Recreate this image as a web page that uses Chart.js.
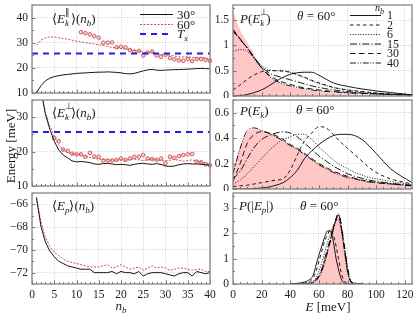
<!DOCTYPE html>
<html><head><meta charset="utf-8">
<script src="https://cdn.jsdelivr.net/npm/chart.js@4.4.1/dist/chart.umd.min.js"></script>
<style>
body{margin:0;width:415px;height:329px;background:#fff;position:relative;overflow:hidden;font-family:"Liberation Serif",serif;}
canvas{position:absolute;}
.t{position:absolute;white-space:nowrap;font-family:"Liberation Serif",serif;font-size:13px;line-height:13px;color:#1a1a1a;}
.stk{display:inline-block;position:relative;width:6px;height:13px;vertical-align:top;}
.stk .up{position:absolute;left:0;top:-4px;font-size:9px;line-height:9px;}
.stk .dn{position:absolute;left:0;top:7px;font-size:9px;line-height:9px;}
.sb{font-size:9px;position:relative;top:3px;}
.c{transform:translate(-50%,-50%);}
svg{position:absolute;left:0;top:0;}
</style></head><body>
<script>
// ---------- data ----------
const nb = [1,2,3,4,5,6,7,8,9,10,11,12,13,14,15,16,17,18,19,20,21,22,23,24,25,26,27,28,29,30,31,32,33,34,35,36,37,38,39,40];
const nbRange = [0,40];
const tsLevel = 25.7;
const ePar30 = [10.0,12.9,14.8,15.9,16.5,16.9,17.2,17.4,17.6,17.8,17.9,18.0,18.1,18.2,18.3,18.3,18.4,18.3,18.2,18.0,17.7,17.6,17.8,18.3,18.8,19.2,19.4,19.1,19.0,19.1,19.2,19.3,19.3,19.4,19.5,19.6,19.7,19.8,19.7,19.6];
const ePar60 = [29.0,31.0,31.9,32.3,32.3,32.0,31.7,31.4,31.0,30.6,30.3,30.0,29.8,29.5,29.2,28.9,28.5,28.1,27.9,27.7,27.5,27.3,27.0,26.7,26.3,26.0,26.3,25.7,25.3,25.5,25.0,24.7,24.4,24.3,24.4,24.1,24.0,24.2,23.9,23.7];
const nbMarksPar = [11,12,13,14,15,16,17,18,19,20,21,22,23,24,25,26,27,28,29,30,31,32,33,34,35,36,37,38,39,40];
const ePar60Marks = [34.2,33.8,33.3,32.6,32.0,30.0,30.0,30.1,28.2,28.4,28.1,27.1,26.5,26.7,24.9,26.1,26.5,24.9,24.4,25.2,23.9,23.4,23.0,22.8,23.5,22.7,23.5,23.5,23.1,22.8];
const ePerp30 = [60,38,31,26.5,23,20.5,19,18.2,17.3,17.0,17.1,17.0,16.8,16.4,16.3,16.5,16.6,16.4,16.2,16.3,16.2,16.0,16.3,16.5,16.6,16.4,16.3,16.5,16.3,15.8,15.7,15.8,16.2,16.4,16.5,16.4,16.4,16.3,16.2,16.0];
const ePerp60 = [60,38,31.5,27.5,24.5,22,20.5,19.8,19.4,19.2,19.0,18.6,18.3,18.0,17.8,17.7,17.6,17.5,17.5,17.6,17.5,17.7,17.8,17.6,17.4,17.6,17.8,17.6,17.4,17.3,17.5,17.7,17.5,17.2,17.4,17.6,17.3,17.0,16.7,16.3];
const nbMarksPerp = [5,6,7,8,9,10,11,12,13,14,15,16,17,18,19,20,21,22,23,24,25,26,27,28,29,30,31,32,33,34,35,36,37,38,39,40];
const ePerp60Marks = [23.9,23.0,20.6,20.2,19.4,19.2,19.2,18.5,19.6,18.6,18.5,17.4,17.4,17.4,17.6,18.0,17.6,18.0,18.5,18.5,19.0,18.0,17.8,17.6,18.0,16.6,18.5,18.2,18.7,19.0,19.2,19.3,17.1,16.9,16.3,16.0];
const eP30 = [-65.4,-67.9,-69.3,-70.1,-70.6,-71.0,-71.2,-71.4,-71.5,-71.6,-71.7,-71.7,-71.7,-72.0,-72.0,-72.0,-72.0,-71.9,-72.1,-71.9,-72.0,-72.0,-72.1,-71.9,-72.3,-72.1,-72.0,-72.0,-72.0,-72.1,-72.2,-72.3,-72.1,-72.0,-72.0,-72.3,-71.9,-72.0,-72.1,-72.0];
const eP60 = [-65.4,-67.5,-68.9,-69.7,-70.2,-70.5,-70.8,-71.0,-71.1,-71.2,-71.3,-71.4,-71.5,-71.5,-71.5,-71.4,-71.3,-71.6,-71.5,-71.3,-71.5,-71.7,-71.6,-71.5,-71.8,-71.6,-71.4,-71.6,-71.5,-71.6,-71.8,-71.7,-71.6,-71.6,-71.7,-71.8,-71.7,-71.7,-71.9,-71.9];

// P(E_perp), theta = 60
const gPerp = [0,5,10,15,20,25,30,35,40,45,50,55,60,70,80,90,100,110,125];
const perpRef = [1.70,1.30,1.06,0.80,0.55,0.40,0.29,0.23,0.19,0.16,0.13,0.11,0.09,0.06,0.04,0.025,0.015,0.008,0.003];
const perpN1  = [0,0.005,0.03,0.07,0.12,0.20,0.29,0.37,0.43,0.46,0.47,0.47,0.41,0.26,0.19,0.14,0.10,0.07,0.02];
const perpN2  = [0.12,0.22,0.33,0.42,0.48,0.50,0.50,0.49,0.47,0.42,0.37,0.31,0.26,0.17,0.12,0.09,0.06,0.04,0.02];
const perpN6  = [0.88,0.92,0.88,0.74,0.60,0.52,0.50,0.50,0.47,0.42,0.36,0.30,0.25,0.17,0.12,0.08,0.06,0.04,0.02];
const perpN15 = [1.30,1.12,0.95,0.76,0.58,0.46,0.40,0.36,0.32,0.28,0.24,0.20,0.17,0.12,0.09,0.06,0.045,0.03,0.02];
const perpN30 = [1.32,1.13,0.95,0.75,0.56,0.42,0.33,0.27,0.23,0.19,0.16,0.14,0.12,0.09,0.07,0.05,0.04,0.03,0.02];
const perpN40 = [1.28,1.12,0.94,0.74,0.55,0.40,0.30,0.24,0.20,0.17,0.14,0.12,0.10,0.08,0.06,0.05,0.04,0.03,0.02];

// P(E_k)
const gKin = [0,5,10,15,20,25,30,35,40,45,50,55,60,65,70,75,80,85,90,95,100,110,125];
const kinRef = [0.16,0.33,0.45,0.47,0.46,0.44,0.42,0.38,0.35,0.32,0.28,0.24,0.20,0.17,0.14,0.12,0.10,0.085,0.07,0.06,0.05,0.04,0.025];
const kinN1  = [0,0,0,0.003,0.008,0.015,0.03,0.05,0.09,0.15,0.24,0.30,0.35,0.39,0.42,0.43,0.43,0.42,0.39,0.34,0.28,0.16,0.05];
const kinN2  = [0.02,0.025,0.03,0.04,0.05,0.06,0.07,0.08,0.15,0.27,0.38,0.44,0.49,0.48,0.43,0.37,0.32,0.27,0.22,0.17,0.13,0.08,0.04];
const kinN6  = [0.04,0.07,0.12,0.18,0.24,0.30,0.35,0.39,0.41,0.43,0.43,0.39,0.33,0.28,0.23,0.19,0.16,0.13,0.11,0.09,0.08,0.06,0.035];
const kinN15 = [0.08,0.14,0.24,0.33,0.39,0.42,0.44,0.45,0.44,0.41,0.36,0.31,0.26,0.22,0.18,0.15,0.12,0.10,0.085,0.07,0.06,0.045,0.03];
const kinN30 = [0.06,0.20,0.36,0.43,0.45,0.44,0.42,0.39,0.35,0.32,0.28,0.24,0.20,0.17,0.14,0.12,0.10,0.085,0.07,0.06,0.05,0.04,0.025];
const kinN40 = [0.12,0.32,0.46,0.48,0.46,0.44,0.41,0.38,0.34,0.31,0.27,0.23,0.19,0.16,0.13,0.11,0.09,0.08,0.065,0.055,0.05,0.04,0.025];

// P(|E_p|)
const gPot = [40,45,50,52,54,56,58,60,62,64,66,68,70,72,73,74,75,76,78,80,82,84,86,90];
const potRef = [0,0,0,0.01,0.02,0.06,0.15,0.30,0.50,0.80,1.20,1.70,2.20,2.60,2.75,2.70,2.45,2.10,1.30,0.50,0.10,0,0,0];
const potN1  = [0,0.02,0.08,0.12,0.20,0.35,0.75,1.15,1.50,1.85,2.10,2.10,1.70,1.00,0.75,0.50,0.30,0.15,0.03,0,0,0,0,0];
const potN2  = [0,0,0.03,0.06,0.12,0.25,0.50,0.90,1.30,1.70,1.95,2.15,1.95,1.50,1.20,0.90,0.60,0.35,0.10,0.02,0,0,0,0];
const potN6  = [0,0,0.01,0.03,0.06,0.12,0.25,0.50,0.85,1.25,1.65,2.00,2.30,2.50,2.55,2.50,2.30,2.00,1.20,0.45,0.10,0.01,0,0];
const potN15 = [0,0,0,0.02,0.04,0.08,0.18,0.35,0.60,1.00,1.40,1.80,2.20,2.55,2.70,2.72,2.50,2.10,1.30,0.50,0.12,0.02,0,0];
const potN30 = [0,0,0,0.01,0.03,0.07,0.15,0.30,0.55,0.90,1.30,1.75,2.20,2.60,2.75,2.70,2.45,2.10,1.35,0.60,0.15,0.03,0,0];
const potN40 = [0,0,0,0.01,0.03,0.06,0.14,0.28,0.50,0.85,1.25,1.70,2.15,2.55,2.72,2.78,2.55,2.20,1.45,0.65,0.18,0.04,0,0];

// tick labels
const xTicksLeft = [0,5,10,15,20,25,30,35,40];
const xTicksRight = [0,20,40,60,80,100,120];
const yTicksPar = [10,20,30,40];
const yTicksPerp = [10,20,30];
const yTicksPot = [-72,-70,-68,-66];
const yTicksPPerp = [0,0.5,1,1.5];
const yTicksPKin = [0,0.2,0.4,0.6];
const yTicksPPot = [0,1,2,3];

// ---------- helpers ----------
const pts = (xs, ys) => xs.map((x, i) => ({x: x, y: ys[i]}));
const RED = '#d24a4a', BLUE = '#2323e8', BLK = '#151515', FILL = '#ffc6c6';
const nStyles = [[], [3.5,3], [1,1.6], [7,2,1.3,2], [5.5,3.5], [6,1.6,1,1.6,1,1.6]];

const axisDeco = {
  id: 'axisDeco',
  afterDatasetsDraw(chart, args, o) {
    const {ctx, chartArea: a} = chart; const xs = chart.scales.x, ys = chart.scales.y;
    ctx.save();
    ctx.strokeStyle = '#444'; ctx.lineWidth = 0.7;
    ctx.beginPath();
    const isMaj = (v, M) => Math.abs(v / M - Math.round(v / M)) < 1e-6;
    for (let v = Math.ceil(xs.min / o.xm) * o.xm; v <= xs.max + 1e-9; v += o.xm) {
      const p = Math.round(xs.getPixelForValue(v)) + 0.5; const len = isMaj(v, o.xM) ? 3.5 : 2;
      ctx.moveTo(p, a.bottom); ctx.lineTo(p, a.bottom - len);
    }
    for (let v = Math.ceil(ys.min / o.ym - 1e-9) * o.ym; v <= ys.max + 1e-9; v += o.ym) {
      const p = Math.round(ys.getPixelForValue(v)) + 0.5; const len = isMaj(v, o.yM) ? 3.5 : 2;
      ctx.moveTo(a.left, p); ctx.lineTo(a.left + len, p);
    }
    ctx.stroke();
    ctx.strokeStyle = '#858585'; ctx.lineWidth = 1.3;
    ctx.strokeRect(a.left, a.top, a.right - a.left, a.bottom - a.top);
    ctx.restore();
  }
};

const tickFont = {family: 'Liberation Serif', size: 11.5};
const fmt = v => (v < 0 ? '\u2212' + Math.abs(v) : String(v));

function panel(rect, xr, yr, datasets, showX, deco) {
  const wY = 40, pT = 6, pR = 6, pB = 2, hX = showX ? 22 : 0;
  const W = rect.R - rect.L + wY + pR, H = rect.B - rect.T + pT + pB + hX;
  const cv = document.createElement('canvas');
  cv.width = W; cv.height = H;
  Object.assign(cv.style, {left: (rect.L - wY) + 'px', top: (rect.T - pT) + 'px', width: W + 'px', height: H + 'px'});
  document.body.appendChild(cv);
  const grid = {color: '#c4c4c4', lineWidth: 0.8, drawTicks: false, borderDash: [1, 1.5]};
  const border = {display: false, dash: [1, 1.5]};
  new Chart(cv, {
    type: 'line',
    data: {datasets},
    options: {
      responsive: false, animation: false, devicePixelRatio: 1,
      layout: {padding: {left: 0, top: pT, right: pR, bottom: pB}},
      plugins: {legend: {display: false}, tooltip: {enabled: false}, axisDeco: deco},
      elements: {point: {radius: 0}, line: {borderWidth: 1}},
      scales: {
        x: {type: 'linear', min: xr.min, max: xr.max,
            afterBuildTicks: s => { s.ticks = xr.ticks.map(v => ({value: v})); },
            afterFit: s => { s.height = hX; s.paddingLeft = 0; s.paddingRight = 0; s.paddingTop = 0; s.paddingBottom = 0; },
            ticks: {display: showX, font: tickFont, color: '#222', padding: 4, maxRotation: 0, minRotation: 0, autoSkip: false, callback: fmt},
            grid, border},
        y: {type: 'linear', min: yr.min, max: yr.max,
            afterBuildTicks: s => { s.ticks = yr.ticks.map(v => ({value: v})); },
            afterFit: s => { s.width = wY; s.paddingTop = 0; s.paddingBottom = 0; s.paddingLeft = 0; s.paddingRight = 0; },
            ticks: {font: tickFont, color: '#222', padding: 4, autoSkip: false, callback: fmt},
            grid, border}
      }
    },
    plugins: [axisDeco]
  });
}

const colL = {L: 32, R: 210}, colR = {L: 233, R: 412};
const rowT = [5, 100, 193], rowB = [96, 189, 284];
const rect = (c, r) => ({L: c.L, R: c.R, T: rowT[r], B: rowB[r]});
const xL = {min: 0, max: 40, ticks: xTicksLeft}, xR = {min: 0, max: 125, ticks: xTicksRight};

function leftSets(y30, y60, marksX, marksY, withTs) {
  const s = [];
  if (withTs) s.push({data: pts(nbRange, [tsLevel, tsLevel]), borderColor: BLUE, borderWidth: 2, borderDash: [6, 5], order: 0});
  s.push({data: pts(nb, y30), borderColor: BLK, borderWidth: 1, order: 1});
  s.push({data: pts(nb, y60), borderColor: RED, borderWidth: 1, borderDash: [2, 1.5], order: 2});
  if (marksX) s.push({data: pts(marksX, marksY), showLine: false, pointRadius: 1.8, pointBorderWidth: 1,
    pointBorderColor: '#cf5a5a', pointBackgroundColor: '#f7d4d4', clip: false, order: 3});
  return s;
}
function rightSets(g, ref, curves) {
  const s = [{data: pts(g, ref), borderWidth: 0, borderColor: 'rgba(0,0,0,0)', backgroundColor: FILL, fill: 'origin', cubicInterpolationMode: 'monotone', order: 20}];
  curves.forEach((c, i) => s.push({data: pts(g, c), borderColor: '#000', borderWidth: 0.9, borderDash: nStyles[i], cubicInterpolationMode: 'monotone', order: i}));
  return s;
}

panel(rect(colL, 0), xL, {min: 10, max: 45, ticks: yTicksPar}, leftSets(ePar30, ePar60, nbMarksPar, ePar60Marks, true), false, {xm: 1, xM: 5, ym: 5, yM: 10});
panel(rect(colL, 1), xL, {min: 10, max: 35, ticks: yTicksPerp}, leftSets(ePerp30, ePerp60, nbMarksPerp, ePerp60Marks, true), false, {xm: 1, xM: 5, ym: 5, yM: 10});
panel(rect(colL, 2), xL, {min: -73, max: -65, ticks: yTicksPot}, leftSets(eP30, eP60, null, null, false), true, {xm: 1, xM: 5, ym: 1, yM: 2});
panel(rect(colR, 0), xR, {min: 0, max: 1.8, ticks: yTicksPPerp}, rightSets(gPerp, perpRef, [perpN1, perpN2, perpN6, perpN15, perpN30, perpN40]), false, {xm: 5, xM: 20, ym: 0.25, yM: 0.5});
panel(rect(colR, 1), xR, {min: 0, max: 0.7, ticks: yTicksPKin}, rightSets(gKin, kinRef, [kinN1, kinN2, kinN6, kinN15, kinN30, kinN40]), false, {xm: 5, xM: 20, ym: 0.1, yM: 0.2});
panel(rect(colR, 2), xR, {min: 0, max: 3.6, ticks: yTicksPPot}, rightSets(gPot, potRef, [potN1, potN2, potN6, potN15, potN30, potN40]), true, {xm: 5, xM: 20, ym: 0.5, yM: 1});
</script>

<svg width="415" height="329">
  <line x1="140" y1="14.5" x2="173" y2="14.5" stroke="#151515" stroke-width="1"/>
  <line x1="140" y1="24.5" x2="173" y2="24.5" stroke="#d24a4a" stroke-width="1" stroke-dasharray="2,1.5"/>
  <line x1="140" y1="34" x2="173" y2="34" stroke="#2323e8" stroke-width="2" stroke-dasharray="6,5"/>
  <line x1="350" y1="15.5" x2="381" y2="15.5" stroke="#000" stroke-width="0.9"/>
  <line x1="350" y1="25" x2="381" y2="25" stroke="#000" stroke-width="0.9" stroke-dasharray="3.5,3"/>
  <line x1="350" y1="34.5" x2="381" y2="34.5" stroke="#000" stroke-width="0.9" stroke-dasharray="1,1.6"/>
  <line x1="350" y1="44" x2="381" y2="44" stroke="#000" stroke-width="0.9" stroke-dasharray="7,2,1.3,2"/>
  <line x1="350" y1="53.5" x2="381" y2="53.5" stroke="#000" stroke-width="0.9" stroke-dasharray="5.5,3.5"/>
  <line x1="350" y1="63" x2="381" y2="63" stroke="#000" stroke-width="0.9" stroke-dasharray="6,1.6,1,1.6,1,1.6"/>
</svg>

<div class="t" style="left:52px;top:12px">⟨<i>E</i><span class="stk"><span class="up">∥</span><span class="dn"><i>k</i></span></span>⟩(<i>n</i><span class="sb"><i>b</i></span>)</div>
<div class="t" style="left:52px;top:106px">⟨<i>E</i><span class="stk"><span class="up">⊥</span><span class="dn"><i>k</i></span></span>⟩(<i>n</i><span class="sb"><i>b</i></span>)</div>
<div class="t" style="left:52px;top:199px">⟨<i>E</i><span class="sb"><i>p</i></span>⟩(<i>n</i><span class="sb"><i>b</i></span>)</div>

<div class="t" style="left:177px;top:8px">30°</div>
<div class="t" style="left:177px;top:18px">60°</div>
<div class="t" style="left:177px;top:27px"><i>T</i><span class="sb"><i>s</i></span></div>

<div class="t" style="left:240px;top:12px"><i>P</i>(<i>E</i><span class="stk"><span class="up">⊥</span><span class="dn"><i>k</i></span></span>)</div>
<div class="t" style="left:297px;top:9px"><i>θ</i> = 60°</div>
<div class="t" style="left:240px;top:104px"><i>P</i>(<i>E</i><span class="sb"><i>k</i></span>)</div>
<div class="t" style="left:296px;top:103px"><i>θ</i> = 60°</div>
<div class="t" style="left:239px;top:199px"><i>P</i>(|<i>E</i><span class="sb"><i>p</i></span>|)</div>
<div class="t" style="left:300px;top:199px"><i>θ</i> = 60°</div>

<div class="t" style="left:375px;top:1px;font-size:10px"><i>n</i><span class="sb" style="font-size:8px"><i>b</i></span></div>
<div class="t" style="left:387px;top:9px;font-size:12px">1</div>
<div class="t" style="left:387px;top:18.5px;font-size:12px">2</div>
<div class="t" style="left:387px;top:28px;font-size:12px">6</div>
<div class="t" style="left:387px;top:37.5px;font-size:12px">15</div>
<div class="t" style="left:387px;top:47px;font-size:12px">30</div>
<div class="t" style="left:387px;top:56.5px;font-size:12px">40</div>

<div class="t c" style="left:10px;top:146px;transform:translate(-50%,-50%) rotate(-90deg)">Energy [meV]</div>
<div class="t c" style="left:121px;top:306px"><i>n</i><span class="sb"><i>b</i></span></div>
<div class="t c" style="left:328px;top:306px"><i>E</i> [meV]</div>
</body></html>
